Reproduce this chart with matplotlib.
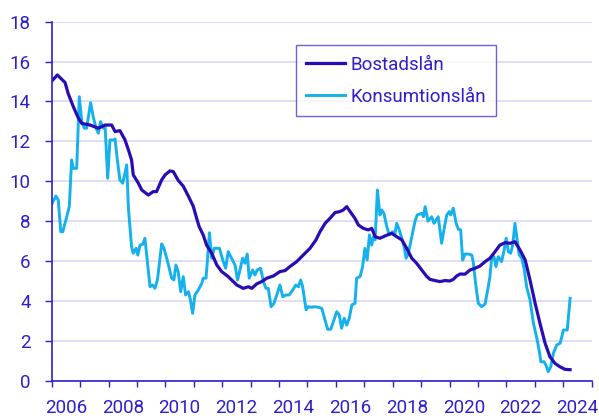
import matplotlib
matplotlib.use("Agg")
import matplotlib.pyplot as plt
from matplotlib.ticker import FixedLocator, NullFormatter, FixedFormatter

plt.rcParams['font.family'] = ['Roboto', 'DejaVu Sans']

# ---- data (decimal year, percent) ----
bostad_year = [2006.02, 2006.20, 2006.47, 2006.58, 2006.76, 2006.94, 2007.06, 2007.35, 2007.64, 2007.88,
               2008.11, 2008.23, 2008.40, 2008.58, 2008.70, 2008.81, 2008.87, 2009.05, 2009.17, 2009.40,
               2009.57, 2009.69, 2009.87, 2009.99, 2010.16, 2010.28, 2010.45, 2010.63, 2010.81, 2010.98,
               2011.10, 2011.19, 2011.33, 2011.45, 2011.63, 2011.81, 2011.98, 2012.21, 2012.51, 2012.74,
               2012.92, 2013.04, 2013.21, 2013.39, 2013.57, 2013.80, 2014.03, 2014.21, 2014.38, 2014.62,
               2014.85, 2015.09, 2015.30, 2015.44, 2015.62, 2015.79, 2015.97, 2016.14, 2016.26, 2016.38,
               2016.50, 2016.67, 2016.79, 2016.96, 2017.14, 2017.26, 2017.38, 2017.55, 2017.73, 2017.96,
               2018.14, 2018.32, 2018.49, 2018.67, 2018.84, 2019.02, 2019.20, 2019.31, 2019.49, 2019.66,
               2019.84, 2020.01, 2020.13, 2020.25, 2020.37, 2020.54, 2020.72, 2020.90, 2021.07, 2021.25,
               2021.42, 2021.60, 2021.77, 2021.95, 2022.13, 2022.30, 2022.48, 2022.66, 2022.83, 2023.01,
               2023.18, 2023.36, 2023.53, 2023.71, 2023.88, 2024.06, 2024.24]
bostad_val = [15.05, 15.33, 14.95, 14.40, 13.74, 13.16, 12.90, 12.82, 12.66, 12.82,
              12.82, 12.49, 12.54, 12.07, 11.57, 11.07, 10.32, 9.90, 9.56, 9.31,
              9.48, 9.48, 10.07, 10.32, 10.52, 10.48, 10.05, 9.75, 9.25, 8.75,
              8.14, 7.72, 7.31, 6.80, 6.39, 5.80, 5.47, 5.22, 4.80, 4.63,
              4.71, 4.63, 4.85, 4.97, 5.14, 5.25, 5.47, 5.52, 5.72, 5.97,
              6.30, 6.64, 7.06, 7.47, 7.89, 8.14, 8.43, 8.48, 8.56, 8.73,
              8.48, 8.14, 7.81, 7.64, 7.56, 7.64, 7.22, 7.14, 7.26, 7.39,
              7.22, 7.06, 6.64, 6.14, 5.89, 5.55, 5.22, 5.08, 5.02, 4.97,
              5.02, 5.00, 5.08, 5.25, 5.35, 5.34, 5.55, 5.64, 5.75, 5.97,
              6.14, 6.47, 6.80, 6.92, 6.89, 6.97, 6.55, 6.05, 5.05, 3.88,
              2.88, 1.88, 1.20, 0.87, 0.70, 0.57, 0.55]

konsum_year = [2006.02, 2006.15, 2006.23, 2006.32, 2006.39, 2006.50, 2006.62, 2006.70, 2006.76, 2006.88,
               2006.97, 2007.06, 2007.15, 2007.23, 2007.37, 2007.46, 2007.56, 2007.64, 2007.72, 2007.82,
               2007.88, 2007.97, 2008.05, 2008.17, 2008.23, 2008.31, 2008.40, 2008.50, 2008.64, 2008.70,
               2008.81, 2008.87, 2008.97, 2009.03, 2009.11, 2009.20, 2009.28, 2009.36, 2009.46, 2009.55,
               2009.63, 2009.72, 2009.87, 2009.95, 2010.08, 2010.22, 2010.30, 2010.37, 2010.45, 2010.54,
               2010.63, 2010.71, 2010.81, 2010.87, 2010.96, 2011.04, 2011.16, 2011.28, 2011.33, 2011.43,
               2011.49, 2011.55, 2011.63, 2011.72, 2011.90, 2012.02, 2012.12, 2012.21, 2012.33, 2012.45,
               2012.54, 2012.63, 2012.72, 2012.80, 2012.88, 2012.95, 2013.07, 2013.15, 2013.23, 2013.35,
               2013.45, 2013.54, 2013.62, 2013.72, 2013.82, 2013.92, 2014.03, 2014.13, 2014.24, 2014.36,
               2014.48, 2014.59, 2014.68, 2014.76, 2014.83, 2014.95, 2015.03, 2015.15, 2015.26, 2015.38,
               2015.50, 2015.62, 2015.71, 2015.82, 2015.93, 2016.03, 2016.12, 2016.20, 2016.29, 2016.38,
               2016.47, 2016.56, 2016.67, 2016.73, 2016.85, 2016.94, 2017.02, 2017.10, 2017.18, 2017.26,
               2017.32, 2017.38, 2017.46, 2017.55, 2017.61, 2017.69, 2017.79, 2017.88, 2018.00, 2018.08,
               2018.14, 2018.23, 2018.32, 2018.40, 2018.47, 2018.55, 2018.67, 2018.78, 2018.86, 2019.02,
               2019.08, 2019.14, 2019.24, 2019.37, 2019.45, 2019.60, 2019.72, 2019.80, 2019.90, 2019.99,
               2020.04, 2020.13, 2020.23, 2020.31, 2020.39, 2020.46, 2020.54, 2020.66, 2020.78, 2020.83,
               2020.93, 2021.01, 2021.13, 2021.25, 2021.36, 2021.42, 2021.48, 2021.56, 2021.63, 2021.71,
               2021.83, 2021.92, 2021.99, 2022.07, 2022.15, 2022.22, 2022.30, 2022.38, 2022.45, 2022.54,
               2022.62, 2022.71, 2022.83, 2022.95, 2023.07, 2023.16, 2023.21, 2023.32, 2023.39, 2023.47,
               2023.56, 2023.65, 2023.77, 2023.89, 2023.95, 2024.00, 2024.14, 2024.24]
konsum_val = [8.90, 9.26, 9.06, 7.47, 7.47, 8.06, 8.73, 11.07, 10.65, 10.65,
              14.24, 12.99, 12.66, 12.66, 13.94, 13.24, 12.66, 12.41, 12.99, 12.66,
              12.74, 10.15, 12.07, 12.07, 12.12, 11.07, 10.07, 9.90, 10.82, 8.65,
              6.72, 6.39, 6.64, 6.30, 6.80, 6.84, 7.14, 6.05, 4.71, 4.80,
              4.63, 5.05, 6.86, 6.64, 5.97, 5.14, 5.05, 5.80, 5.47, 4.46,
              5.22, 4.30, 4.46, 4.13, 3.38, 4.30, 4.55, 4.88, 5.14, 5.14,
              6.22, 7.42, 6.14, 6.64, 6.64, 6.05, 5.64, 6.47, 6.14, 5.80,
              5.05, 5.60, 6.14, 5.89, 6.35, 5.14, 5.55, 5.30, 5.55, 5.64,
              4.97, 4.63, 4.63, 3.71, 3.88, 4.30, 4.80, 4.21, 4.30, 4.30,
              4.55, 4.80, 4.71, 5.05, 4.71, 3.55, 3.71, 3.68, 3.71, 3.68,
              3.63, 3.04, 2.58, 2.58, 3.04, 3.46, 3.29, 2.63, 3.13, 2.79,
              3.13, 3.80, 3.88, 5.14, 5.22, 5.72, 6.64, 6.05, 7.31, 6.80,
              7.22, 7.06, 9.56, 8.31, 8.56, 8.39, 7.72, 7.31, 7.47, 7.39,
              7.89, 7.56, 7.14, 6.72, 6.14, 6.39, 7.22, 7.97, 8.31, 8.39,
              8.22, 8.73, 8.00, 8.22, 7.89, 8.22, 6.89, 7.56, 8.31, 8.48,
              8.31, 8.65, 7.89, 7.59, 7.56, 6.05, 6.35, 6.35, 6.30, 5.97,
              4.71, 3.88, 3.71, 3.85, 4.71, 5.22, 6.14, 6.22, 5.72, 6.22,
              5.97, 6.55, 7.14, 6.47, 6.39, 6.80, 7.89, 7.06, 6.30, 6.14,
              5.64, 4.71, 4.05, 2.88, 2.13, 1.45, 0.95, 0.95, 0.79, 0.45,
              0.70, 1.37, 1.79, 1.88, 2.21, 2.54, 2.54, 4.13]

series_names = ["Bostadslån", "Konsumtionslån"]
year_labels = ["2006", "2008", "2010", "2012", "2014", "2016", "2018", "2020", "2022", "2024"]
y_ticks = [0, 2, 4, 6, 8, 10, 12, 14, 16, 18]

# ---- style ----
DARK = "#2a0cb4"
LIGHT = "#14b1ec"
TXT = "#2d1fcc"
GRID = "#d8d8f2"

fig = plt.figure(figsize=(5.99, 4.20), dpi=100)
ax = fig.add_axes([0.0863, 0.0936, 0.9015, 0.8547])

ax.plot(bostad_year, bostad_val, color=DARK, lw=2.3, label=series_names[0], zorder=3,
        solid_joinstyle='round')
ax.plot(konsum_year, konsum_val, color=LIGHT, lw=2.1, label=series_names[1], zorder=2,
        solid_joinstyle='round')

ax.set_xlim(2006, 2025)
ax.set_ylim(0, 18)

ax.xaxis.set_major_locator(FixedLocator(list(range(2006, 2026))))
ax.xaxis.set_major_formatter(NullFormatter())
ax.xaxis.set_minor_locator(FixedLocator([int(s) + 0.5 for s in year_labels]))
ax.xaxis.set_minor_formatter(FixedFormatter(year_labels))
ax.tick_params(axis='x', which='major', length=4.5, width=1.0, color=TXT, direction='out')
ax.tick_params(axis='x', which='minor', length=0, pad=13, labelsize=13.5, labelcolor=TXT)

ax.set_yticks(y_ticks)
ax.set_yticklabels([str(v) for v in y_ticks])
ax.tick_params(axis='y', length=5, width=1.0, color=TXT, pad=10, labelsize=13.5, labelcolor=TXT)

ax.grid(axis='y', color=GRID, lw=1.2, zorder=0)
ax.set_axisbelow(True)
for s in ['top', 'right']:
    ax.spines[s].set_visible(False)
for s in ['left', 'bottom']:
    ax.spines[s].set_color(TXT)
    ax.spines[s].set_linewidth(1.2)
ax.spines['left'].set_zorder(4)
ax.spines['bottom'].set_zorder(4)

leg = ax.legend(loc='upper left', bbox_to_anchor=(0.452, 0.934), borderaxespad=0,
                fontsize=13.5, frameon=True, fancybox=False, edgecolor="#4a3ad8",
                handlelength=2.1, handletextpad=0.25, labelspacing=0.75, borderpad=0.55)
leg.get_frame().set_linewidth(1.0)
for t in leg.get_texts():
    t.set_color(TXT)

fig.savefig("out.png", dpi=100)
